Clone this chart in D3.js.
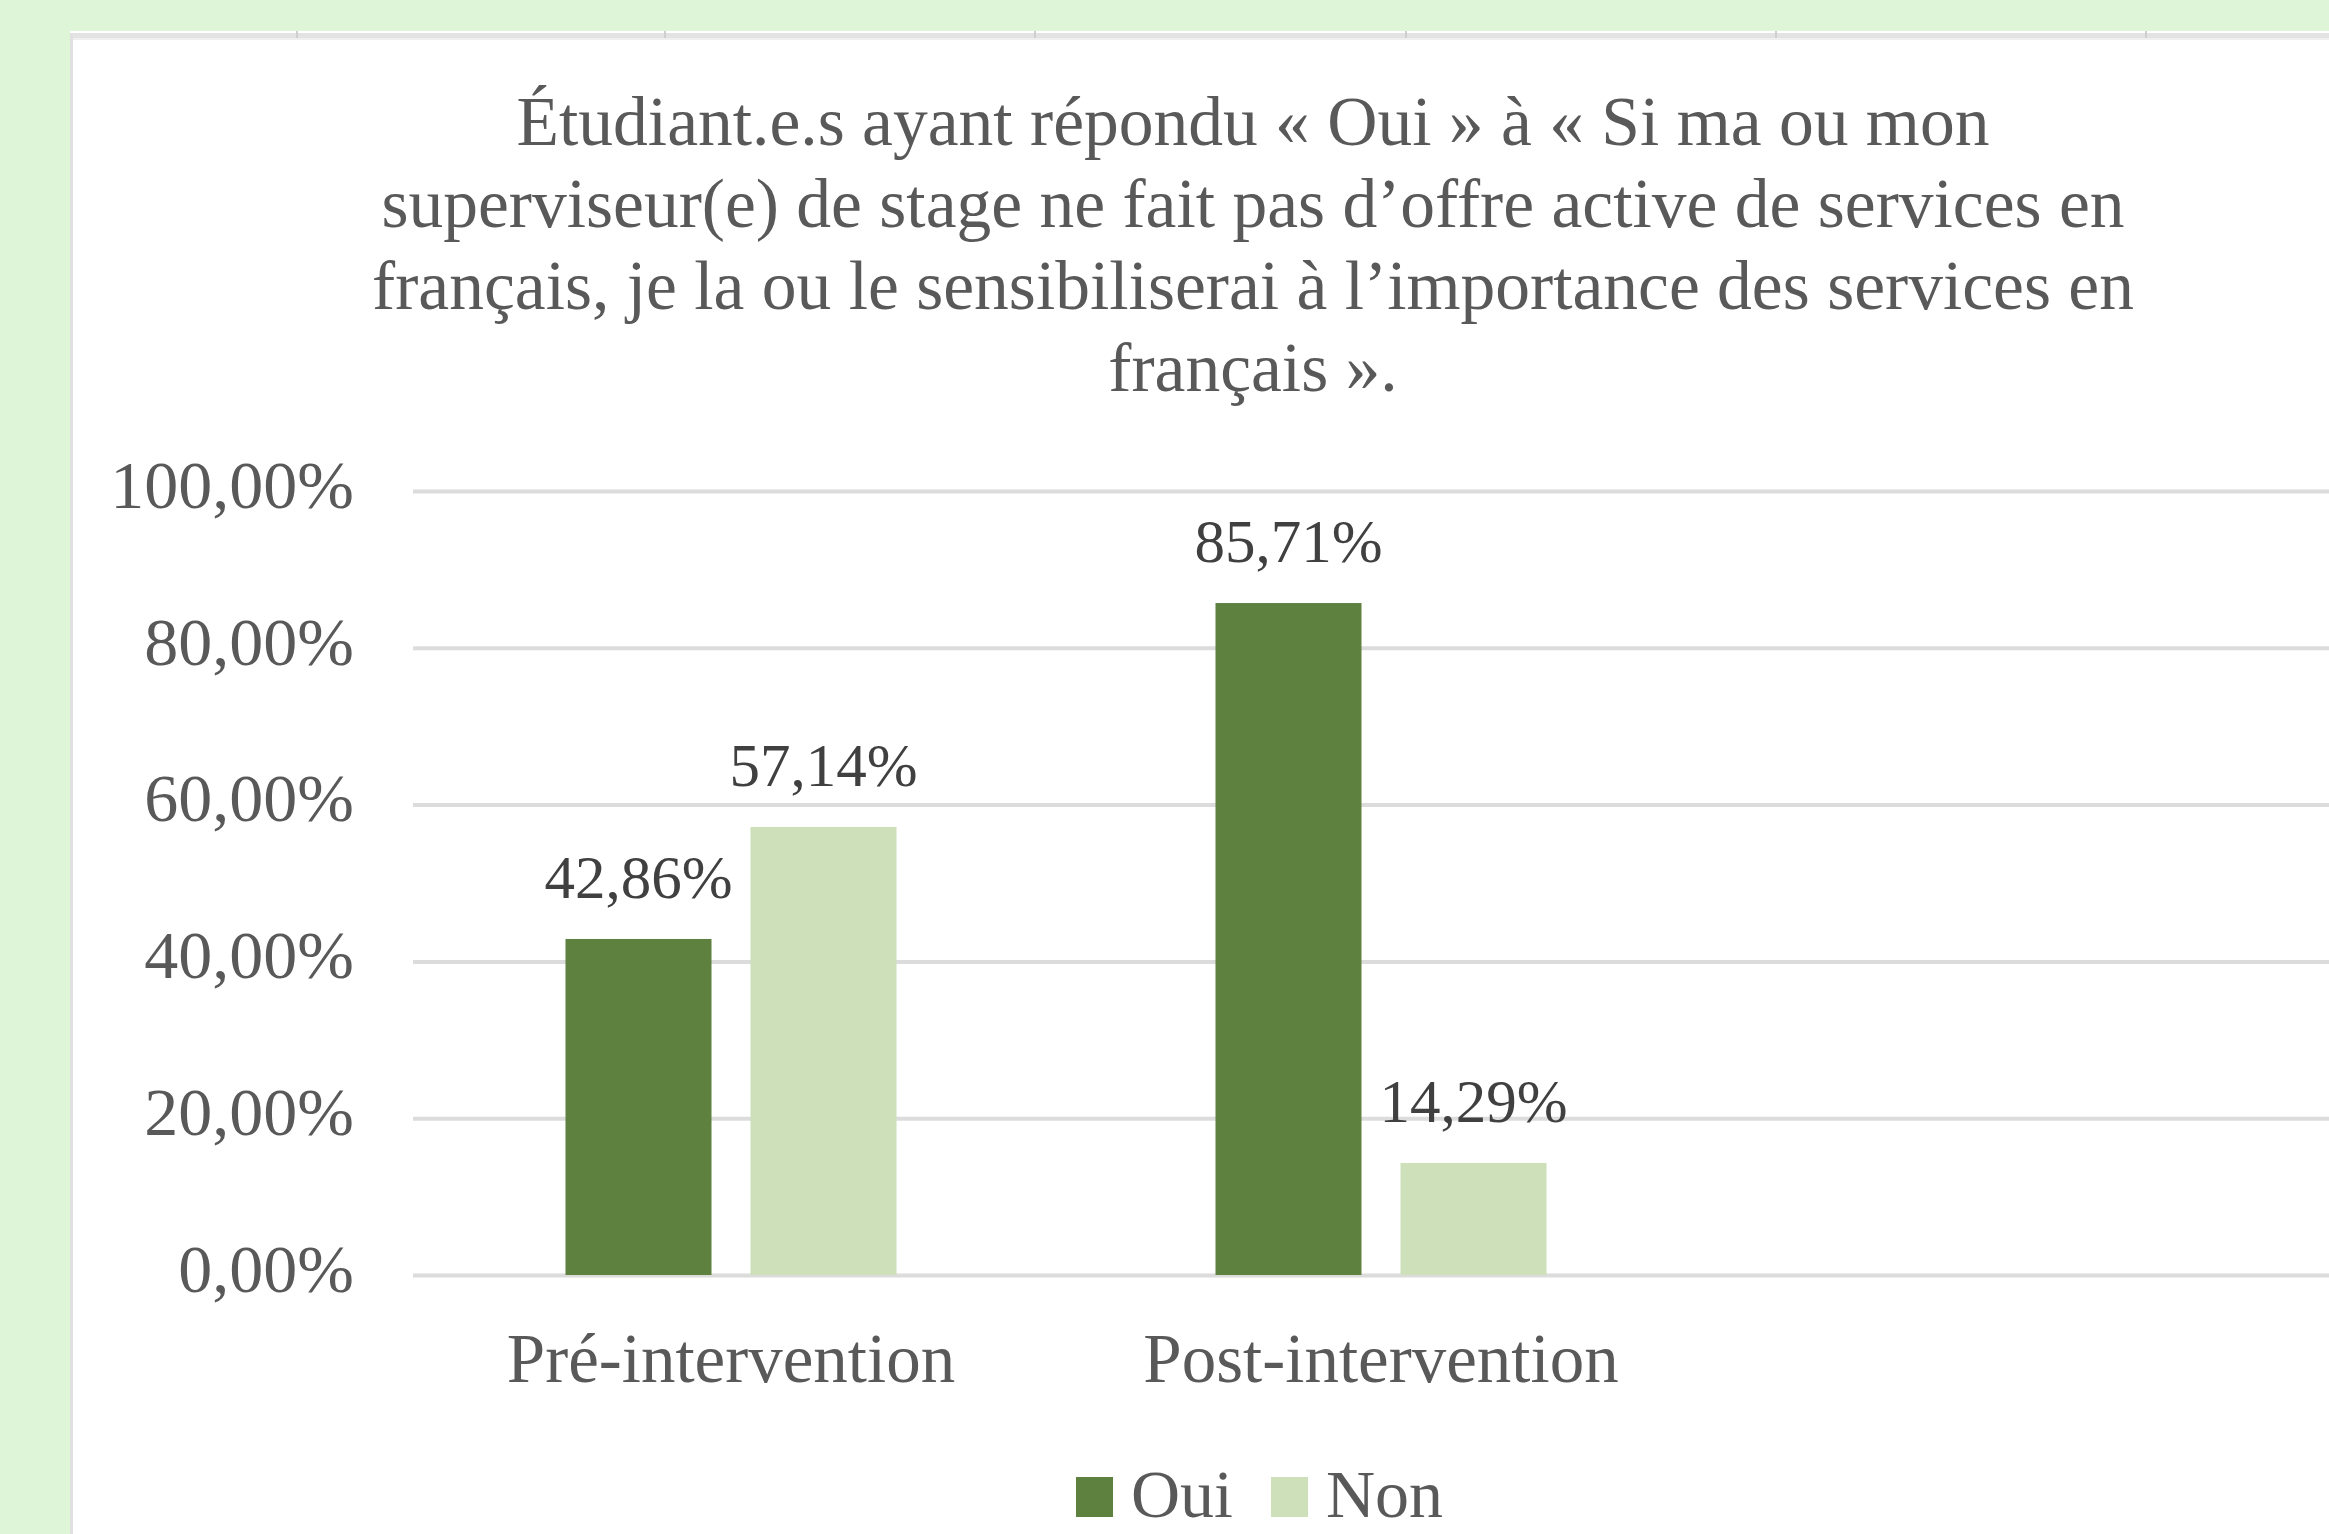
<!DOCTYPE html>
<html>
<head>
<meta charset="utf-8">
<script src="https://cdn.jsdelivr.net/npm/d3@7"></script>
<style>
  html, body { margin: 0; padding: 0; background: #dff5d7; }
  svg { display: block; }
  text { font-family: "Liberation Serif", "Times New Roman", serif; }
</style>
</head>
<body>
<svg id="chart" width="2329" height="1534"></svg>
<script>
// ---- data ----
const categories = ["Pré-intervention", "Post-intervention"];
const seriesNames = ["Oui", "Non"];
const ouiValues = [0.4286, 0.8571];
const nonValues = [0.5714, 0.1429];
const yTicks = [0, 0.2, 0.4, 0.6, 0.8, 1.0];
const titleLines = [
  "Étudiant.e.s ayant répondu « Oui » à « Si ma ou mon",
  "superviseur(e) de stage ne fait pas d’offre active de services en",
  "français, je la ou le sensibiliserai à l’importance des services en",
  "français »."
];
const seriesColors = ["#5f813f", "#cde0b9"];

// ---- setup ----
const W = 2329, H = 1534;
const svg = d3.select("#chart");
const fr = d3.formatLocale({decimal: ",", thousands: " ", grouping: [3], currency: ["", " €"], percent: "%"});
const pct = fr.format(".2%");

// background sheet
svg.append("rect").attr("x", 0).attr("y", 0).attr("width", W).attr("height", H).attr("fill", "#dff5d7");
svg.append("rect").attr("x", 70).attr("y", 31).attr("width", W - 70).attr("height", H - 31).attr("fill", "#ffffff");
svg.append("rect").attr("x", 70).attr("y", 33).attr("width", W - 70).attr("height", 5).attr("fill", "#e3e3e3");
svg.append("rect").attr("x", 70).attr("y", 38).attr("width", W - 70).attr("height", 2).attr("fill", "#efefef");
svg.append("rect").attr("x", 70).attr("y", 33).attr("width", 3).attr("height", H - 33).attr("fill", "#e0e0e0");
[297, 665, 1035, 1406, 1776, 2146].forEach(x => {
  svg.append("rect").attr("x", x - 1).attr("y", 31).attr("width", 2).attr("height", 7).attr("fill", "#cfcfcf");
});

// scales
const x0 = d3.scaleBand().domain(categories).range([406, 1706]).padding(0);
const x1 = d3.scaleBand().domain(seriesNames).range([0, x0.bandwidth()]).paddingInner(0.2108).paddingOuter(0.862);
const y = d3.scaleLinear().domain([0, 1]).range([1275, 491]);

// gridlines + y axis
const plotLeft = 413;
const yAxis = d3.axisLeft(y)
  .tickValues(yTicks)
  .tickFormat(pct)
  .tickSize(-(W - plotLeft))
  .tickPadding(59);
const gy = svg.append("g").attr("transform", `translate(${plotLeft},0)`).call(yAxis);
gy.select(".domain").remove();
gy.selectAll(".tick line").attr("stroke", "#dcdcdc").attr("stroke-width", 4);
gy.selectAll(".tick text")
  .attr("fill", "#595959")
  .attr("font-size", 68)
  .attr("dy", "0.24em")
  .style("font-family", "'Liberation Serif', serif");

// bars
const rows = categories.map((c, i) => ({cat: c, vals: [ouiValues[i], nonValues[i]]}));
const groups = svg.append("g").selectAll("g").data(rows).join("g")
  .attr("transform", d => `translate(${x0(d.cat)},0)`);
groups.selectAll("rect")
  .data(d => d.vals.map((v, j) => ({s: seriesNames[j], v, j})))
  .join("rect")
  .attr("x", d => x1(d.s))
  .attr("width", x1.bandwidth())
  .attr("y", d => y(d.v))
  .attr("height", d => y(0) - y(d.v))
  .attr("fill", d => seriesColors[d.j]);

// value labels
groups.selectAll("text.val")
  .data(d => d.vals.map((v, j) => ({s: seriesNames[j], v, j})))
  .join("text")
  .attr("class", "val")
  .attr("x", d => x1(d.s) + x1.bandwidth() / 2)
  .attr("y", d => y(d.v) - 41)
  .attr("text-anchor", "middle")
  .attr("font-size", 61)
  .attr("fill", "#404040")
  .text(d => pct(d.v));

// category labels
const xAxis = d3.axisBottom(x0).tickSize(0).tickPadding(0);
const gx = svg.append("g").attr("transform", `translate(0,1382)`).call(xAxis);
gx.select(".domain").remove();
gx.selectAll(".tick text")
  .attr("fill", "#595959")
  .attr("font-size", 69)
  .attr("dy", 0)
  .attr("y", 0)
  .style("font-family", "'Liberation Serif', serif");

// title
const title = svg.append("text")
  .attr("text-anchor", "middle")
  .attr("font-size", 69.5)
  .attr("fill", "#595959");
titleLines.forEach((t, i) => {
  title.append("tspan").attr("x", 1253).attr("y", 145 + i * 82).text(t);
});

// legend
const legend = svg.append("g").attr("transform", "translate(1076,1517)");
let lx = 0;
seriesNames.forEach((name, i) => {
  const item = legend.append("g").attr("transform", `translate(${lx},0)`);
  item.append("rect").attr("x", 0).attr("y", -40).attr("width", 37).attr("height", 40).attr("fill", seriesColors[i]);
  const t = item.append("text").attr("x", 55).attr("y", 0).attr("font-size", 68).attr("fill", "#595959").text(name);
  lx += 55 + t.node().getComputedTextLength() + 38;
});
</script>
</body>
</html>
